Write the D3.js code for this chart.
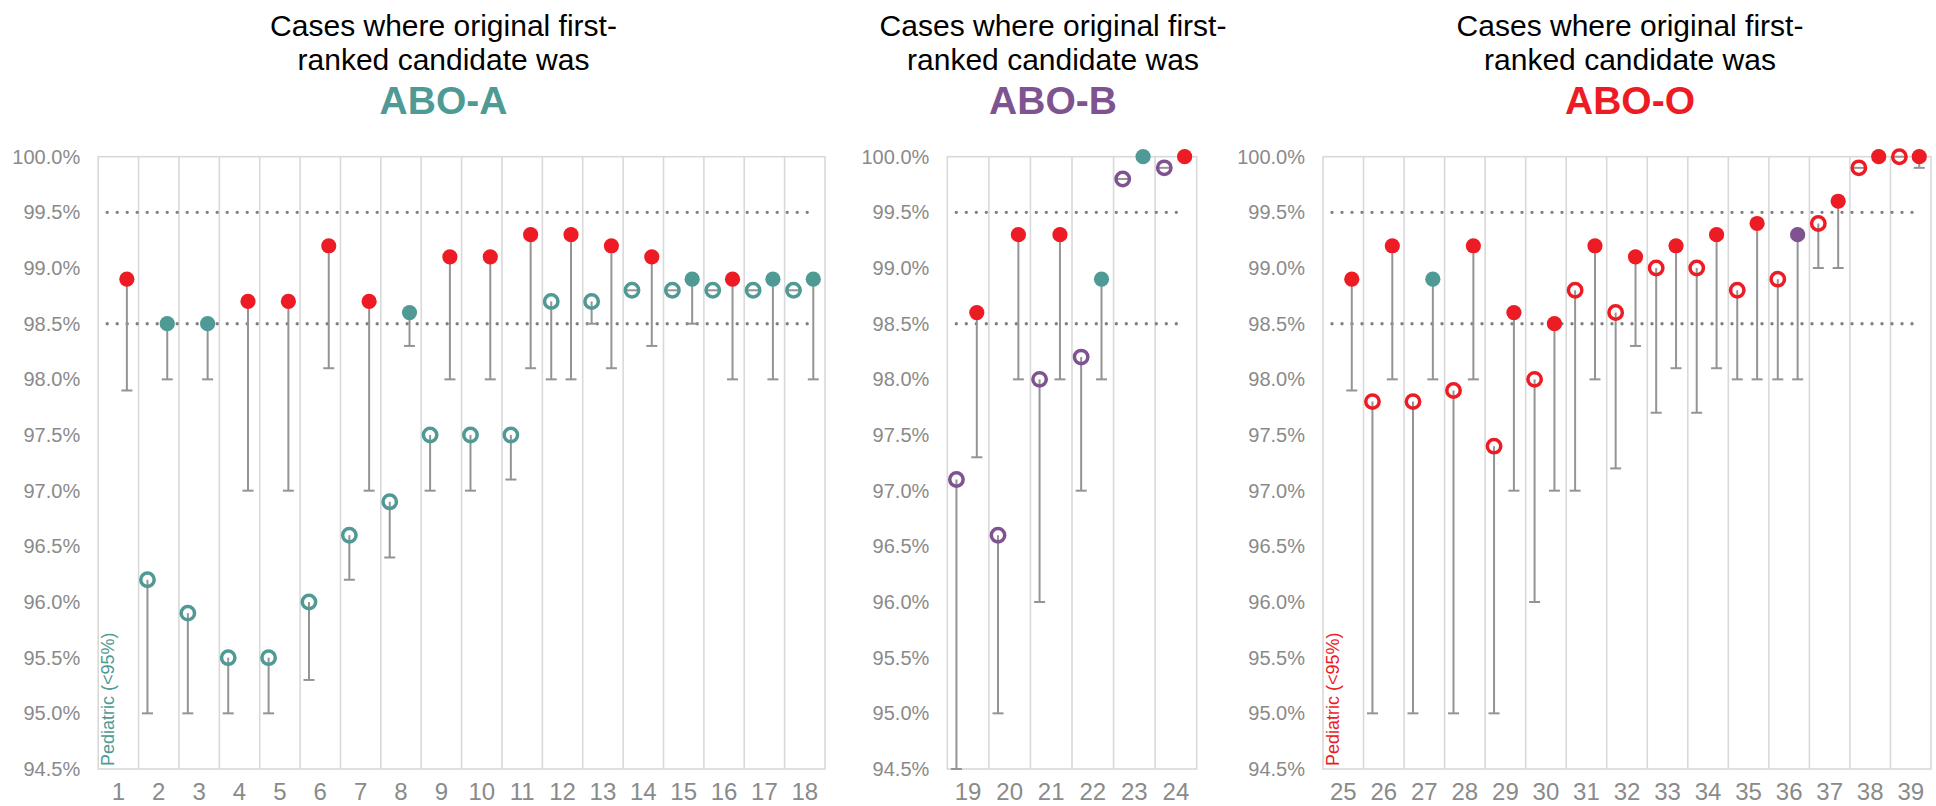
<!DOCTYPE html>
<html><head><meta charset="utf-8">
<script src="https://cdn.jsdelivr.net/npm/d3@7"></script>
<style>
body{margin:0;background:#fff;}
svg{display:block;font-family:"Liberation Sans",Arial,Helvetica,sans-serif;}
</style>
</head><body>
<svg id="chart" width="1936" height="806"></svg>
<script>
// ---------- data ----------
const yTicks = [94.5, 95.0, 95.5, 96.0, 96.5, 97.0, 97.5, 98.0, 98.5, 99.0, 99.5, 100.0];
const refLines = [98.5, 99.5];

// ABO-A panel
const casesA = [1,2,3,4,5,6,7,8,9,10,11,12,13,14,15,16,17,18];
const filledA    = [98.9,98.5,98.5,98.7,98.7,99.2,98.7,98.6,99.1,99.1,99.3,99.3,99.2,99.1,98.9,98.9,98.9,98.9];
const filledLowA = [97.9,98.0,98.0,97.0,97.0,98.1,97.0,98.3,98.0,98.0,98.1,98.0,98.1,98.3,98.5,98.0,98.0,98.0];
const filledTypeA = ["O","A","A","O","O","O","O","A","O","O","O","O","O","O","A","O","A","A"];
const hollowA    = [null,96.2,95.9,95.5,95.5,96.0,96.6,96.9,97.5,97.5,97.5,98.7,98.7,98.8,98.8,98.8,98.8,98.8];
const hollowLowA = [null,95.0,95.0,95.0,95.0,95.3,96.2,96.4,97.0,97.0,97.1,98.0,98.5,98.8,98.8,98.8,98.8,98.8];

// ABO-B panel
const casesB = [19,20,21,22,23,24];
const filledB    = [98.6,99.3,99.3,98.9,100.0,100.0];
const filledLowB = [97.3,98.0,98.0,98.0,100.0,100.0];
const filledTypeB = ["O","O","O","A","A","O"];
const hollowB    = [97.1,96.6,98.0,98.2,99.8,99.9];
const hollowLowB = [94.5,95.0,96.0,97.0,99.8,99.9];

// ABO-O panel
const casesO = [25,26,27,28,29,30,31,32,33,34,35,36,37,38,39];
const filledO    = [98.9,99.2,98.9,99.2,98.6,98.5,99.2,99.1,99.2,99.3,99.4,99.3,99.6,100.0,100.0];
const filledLowO = [97.9,98.0,98.0,98.0,97.0,97.0,98.0,98.3,98.1,98.1,98.0,98.0,99.0,100.0,99.9];
const filledTypeO = ["O","O","A","O","O","O","O","O","O","O","O","B","O","O","O"];
const hollowO    = [null,97.8,97.8,97.9,97.4,98.0,98.8,98.6,99.0,99.0,98.8,98.9,99.4,99.9,100.0];
const hollowLowO = [null,95.0,95.0,95.0,95.0,96.0,97.0,97.2,97.7,97.7,98.0,98.0,99.0,99.9,100.0];

const titleLine1 = "Cases where original first-";
const titleLine2 = "ranked candidate was";
const groupNames = {A:"ABO-A", B:"ABO-B", O:"ABO-O"};
const pediatricLabel = "Pediatric (<95%)";

// ---------- style / layout ----------
const COLORS = {A:"#4f9a94", B:"#7e5390", O:"#ed1c24"};
const TEXT_GRAY = "#8a8a8a";
const GRID = "#d9d9d9";
const ERR = "#949494";
const TOP = 156.7, BOTTOM = 769;

const panels = [
  {key:"A", cases:casesA, filled:filledA, filledLow:filledLowA, filledType:filledTypeA,
   hollow:hollowA, hollowLow:hollowLowA, left:98.2, right:825, titleX:443.5, pediatric:true},
  {key:"B", cases:casesB, filled:filledB, filledLow:filledLowB, filledType:filledTypeB,
   hollow:hollowB, hollowLow:hollowLowB, left:947.3, right:1196.7, titleX:1053, pediatric:false},
  {key:"O", cases:casesO, filled:filledO, filledLow:filledLowO, filledType:filledTypeO,
   hollow:hollowO, hollowLow:hollowLowO, left:1323, right:1931, titleX:1630, pediatric:true}
];

const svg = d3.select("#chart");
const y = d3.scaleLinear().domain([94.5, 100]).range([BOTTOM, TOP]);
const fmt = d => d3.format(".1f")(d) + "%";

panels.forEach(p => {
  const g = svg.append("g");
  const x = d3.scaleBand().domain(p.cases).range([p.left, p.right]).padding(0);
  const bw = x.bandwidth();
  const hx = c => x(c) + bw * 0.22;
  const fx = c => x(c) + bw * 0.71;

  // plot border
  g.append("rect").attr("x", p.left).attr("y", TOP)
    .attr("width", p.right - p.left).attr("height", BOTTOM - TOP)
    .attr("fill", "none").attr("stroke", GRID).attr("stroke-width", 1.6);

  // vertical category gridlines
  g.selectAll(".vg").data(p.cases.slice(1)).join("line")
    .attr("x1", c => x(c)).attr("x2", c => x(c))
    .attr("y1", TOP).attr("y2", BOTTOM)
    .attr("stroke", GRID).attr("stroke-width", 1.6);

  // dotted reference lines
  g.selectAll(".ref").data(refLines).join("line")
    .attr("x1", p.left + 9).attr("x2", p.right - 11)
    .attr("y1", d => y(d)).attr("y2", d => y(d))
    .attr("stroke", "#808080").attr("stroke-width", 3.4)
    .attr("stroke-linecap", "round").attr("stroke-dasharray", "0 10");

  // y axis
  const ya = g.append("g").attr("transform", `translate(${p.left},0)`)
    .call(d3.axisLeft(y).tickValues(yTicks).tickFormat(fmt).tickSize(0).tickPadding(18));
  ya.select(".domain").remove();
  ya.selectAll("text").attr("font-size", 20).attr("fill", TEXT_GRAY)
    .attr("font-family", "'Liberation Sans',Arial,sans-serif");

  // x axis
  const xa = g.append("g").attr("transform", `translate(0,${BOTTOM})`)
    .call(d3.axisBottom(x).tickSize(0).tickPadding(14));
  xa.select(".domain").remove();
  xa.selectAll("text").attr("font-size", 24).attr("fill", TEXT_GRAY)
    .attr("font-family", "'Liberation Sans',Arial,sans-serif");

  // error bars
  const bars = [];
  p.cases.forEach((c, i) => {
    if (p.hollow[i] != null) bars.push({x: hx(c), v: p.hollow[i], lo: p.hollowLow[i]});
    bars.push({x: fx(c), v: p.filled[i], lo: p.filledLow[i]});
  });
  g.selectAll(".eb").data(bars).join("line")
    .attr("x1", d => d.x).attr("x2", d => d.x)
    .attr("y1", d => y(d.v)).attr("y2", d => y(d.lo))
    .attr("stroke", ERR).attr("stroke-width", 2);
  g.selectAll(".cap").data(bars).join("line")
    .attr("x1", d => d.x - 5.5).attr("x2", d => d.x + 5.5)
    .attr("y1", d => y(d.lo)).attr("y2", d => y(d.lo))
    .attr("stroke", ERR).attr("stroke-width", 2);

  // hollow markers
  const hollowPts = p.cases.map((c, i) => ({c, v: p.hollow[i]})).filter(d => d.v != null);
  g.selectAll(".hm").data(hollowPts).join("circle")
    .attr("cx", d => hx(d.c)).attr("cy", d => y(d.v)).attr("r", 6.7)
    .attr("fill", "none").attr("stroke", COLORS[p.key]).attr("stroke-width", 3.5);

  // filled markers
  const filledPts = p.cases.map((c, i) => ({c, v: p.filled[i], t: p.filledType[i]}));
  g.selectAll(".fm").data(filledPts).join("circle")
    .attr("cx", d => fx(d.c)).attr("cy", d => y(d.v)).attr("r", 7.6)
    .attr("fill", d => COLORS[d.t]);

  // pediatric label
  if (p.pediatric) {
    g.append("text").attr("transform", `translate(${p.left + 16},766) rotate(-90)`)
      .attr("font-size", 18).attr("fill", COLORS[p.key]).text(pediatricLabel);
  }

  // titles
  const t = g.append("g").attr("text-anchor", "middle");
  t.append("text").attr("x", p.titleX).attr("y", 35.5).attr("font-size", 30).attr("fill", "#000").text(titleLine1);
  t.append("text").attr("x", p.titleX).attr("y", 69.5).attr("font-size", 30).attr("fill", "#000").text(titleLine2);
  t.append("text").attr("x", p.titleX).attr("y", 114).attr("font-size", 39).attr("font-weight", "bold")
    .attr("fill", COLORS[p.key]).text(groupNames[p.key]);
});
</script>
</body></html>
